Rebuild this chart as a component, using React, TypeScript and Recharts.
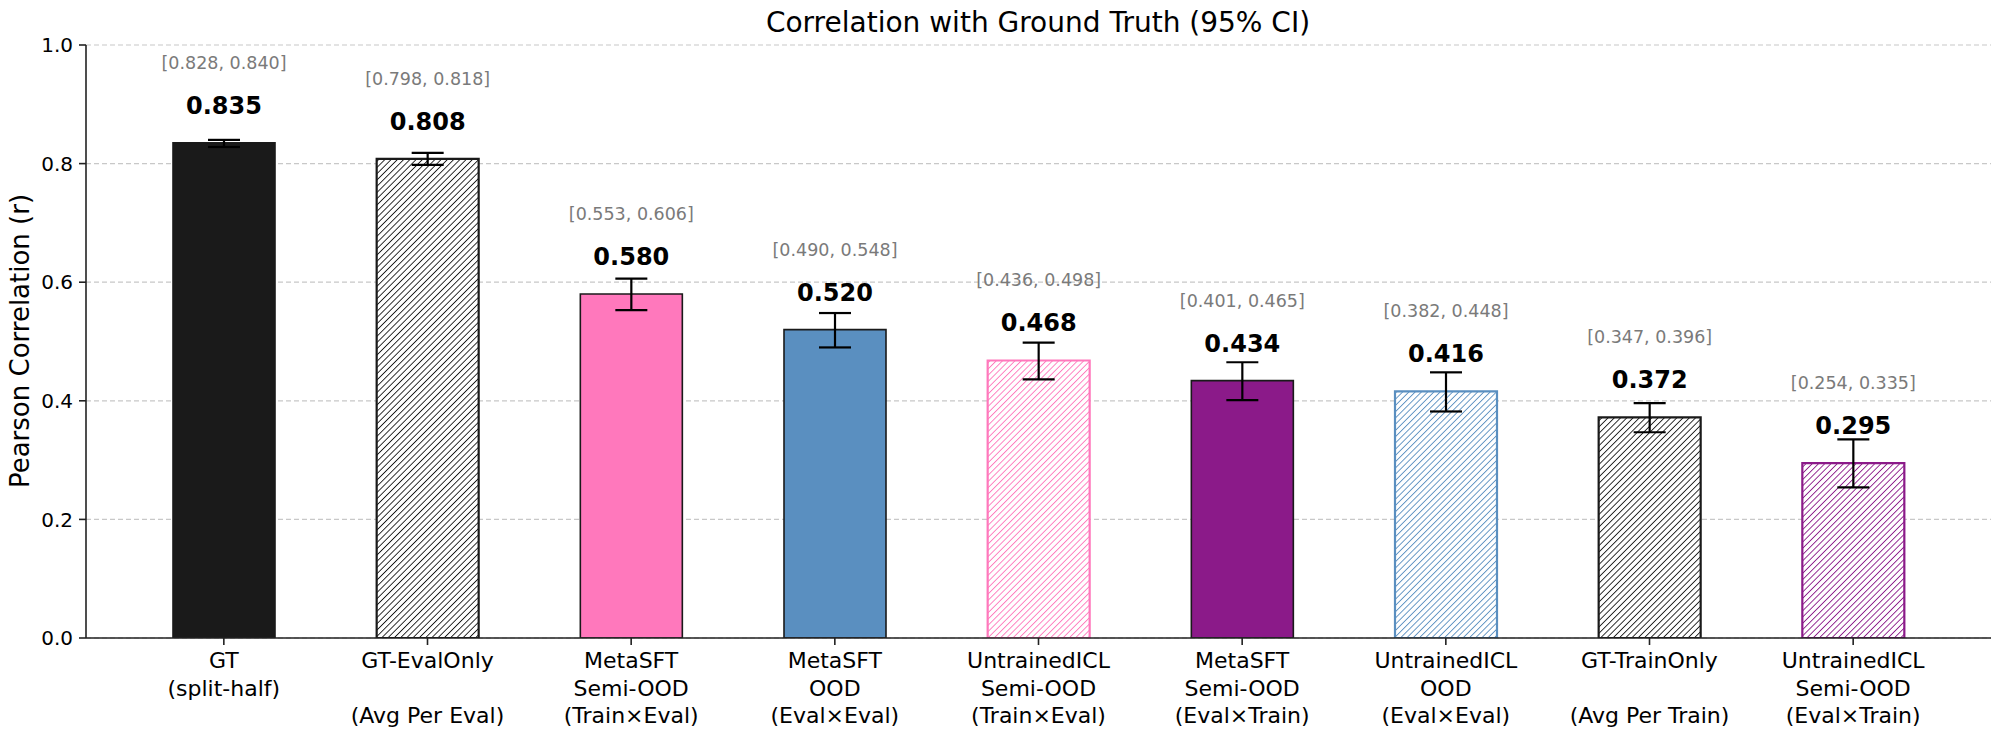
import React from "react";
import { BarChart, Bar, XAxis, YAxis, CartesianGrid, Cell, ErrorBar, LabelList } from "recharts";

const categories = [
  "GT\n(split-half)",
  "GT-EvalOnly\n\n(Avg Per Eval)",
  "MetaSFT\nSemi-OOD\n(Train×Eval)",
  "MetaSFT\nOOD\n(Eval×Eval)",
  "UntrainedICL\nSemi-OOD\n(Train×Eval)",
  "MetaSFT\nSemi-OOD\n(Eval×Train)",
  "UntrainedICL\nOOD\n(Eval×Eval)",
  "GT-TrainOnly\n\n(Avg Per Train)",
  "UntrainedICL\nSemi-OOD\n(Eval×Train)",
];
const values = [0.835, 0.808, 0.58, 0.52, 0.468, 0.434, 0.416, 0.372, 0.295];
const ciLow = [0.828, 0.798, 0.553, 0.49, 0.436, 0.401, 0.382, 0.347, 0.254];
const ciHigh = [0.84, 0.818, 0.606, 0.548, 0.498, 0.465, 0.448, 0.396, 0.335];
const barColors = ["#1a1a1a", "#1a1a1a", "#ff78bc", "#5a8fc0", "#ff78bc", "#8b1a89", "#5a8fc0", "#1a1a1a", "#8b1a89"];
const hatched = [false, true, false, false, true, false, true, true, true];
const yTicks = [0, 0.2, 0.4, 0.6, 0.8, 1.0];

const FONT = "'DejaVu Sans', sans-serif";

const data = categories.map((c, i) => ({
  name: c,
  value: values[i],
  err: [values[i] - ciLow[i], ciHigh[i] - values[i]],
  ci: `[${ciLow[i].toFixed(3)}, ${ciHigh[i].toFixed(3)}]`,
}));

const hatchId = (i: number) => `hatch-${i}`;

const XTick = (props: any) => {
  const { x, y, payload } = props;
  const lines = String(payload.value).split("\n");
  return (
    <text x={x} y={y} textAnchor="middle" fontFamily={FONT} fontSize={22} fill="#000">
      {lines.map((l, i) => (
        <tspan key={i} x={x} y={y + 23 + i * 27.5}>
          {l}
        </tspan>
      ))}
    </text>
  );
};

const ValueLabel = (props: any) => {
  const { x, y, width, value } = props;
  return (
    <text x={x + width / 2} y={y - 37} textAnchor="middle" dominantBaseline="central" fontFamily={FONT} fontSize={24} fontWeight="bold" fill="#000">
      {Number(value).toFixed(3)}
    </text>
  );
};

const CiLabel = (props: any) => {
  const { x, y, width, value } = props;
  return (
    <text x={x + width / 2} y={y - 80} textAnchor="middle" dominantBaseline="central" fontFamily={FONT} fontSize={17.5} fill="#7a7a7a">
      {value}
    </text>
  );
};

export default function App() {
  return (
    <div style={{ position: "absolute", left: 0, top: 0, width: 1999, height: 738, background: "#fff" }}>
      <BarChart width={1999} height={738} data={data} margin={{ top: 45, right: 8, bottom: 0, left: 0 }} barCategoryGap={0}>
        <defs>
          {barColors.map((c, i) => (
            <pattern key={i} id={hatchId(i)} patternUnits="userSpaceOnUse" width={4.42} height={4.42} patternTransform="rotate(45)">
              <rect x={0} y={0} width={4.42} height={4.42} fill="#fff" />
              <line x1={0} y1={0} x2={0} y2={4.42} stroke={c} strokeWidth={1.8} />
            </pattern>
          ))}
        </defs>
        <CartesianGrid vertical={false} stroke="#c8c8c8" strokeDasharray="5 3" strokeWidth={1.2} />
        <XAxis
          dataKey="name"
          type="category"
          height={100}
          interval={0}
          padding={{ left: 36, right: 36 }}
          tick={<XTick />}
          tickSize={7}
          tickMargin={0}
          axisLine={{ stroke: "#222", strokeWidth: 1.6 }}
          tickLine={{ stroke: "#222", strokeWidth: 1.6 }}
        />
        <XAxis xAxisId="top" dataKey="name" orientation="top" height={0} tick={false} tickLine={false} axisLine={{ stroke: "#222", strokeWidth: 1.6 }} />
        <YAxis
          width={86}
          domain={[0, 1]}
          ticks={yTicks}
          allowDataOverflow
          tickFormatter={(v: number) => v.toFixed(1)}
          tick={{ fontFamily: FONT, fontSize: 20, fill: "#000" }}
          tickSize={7}
          tickMargin={6}
          axisLine={{ stroke: "#222", strokeWidth: 1.6 }}
          tickLine={{ stroke: "#222", strokeWidth: 1.6 }}
        />
        <YAxis yAxisId="right" orientation="right" width={0} domain={[0, 1]} tick={false} tickLine={false} axisLine={{ stroke: "#222", strokeWidth: 1.6 }} />
        <Bar dataKey="value" barSize={102} isAnimationActive={false}>
          {data.map((d, i) => (
            <Cell
              key={i}
              fill={hatched[i] ? `url(#${hatchId(i)})` : barColors[i]}
              stroke={hatched[i] ? barColors[i] : "#1a1a1a"}
              strokeWidth={hatched[i] ? 2.2 : 1.6}
            />
          ))}
          <ErrorBar dataKey="err" width={16} strokeWidth={2.2} stroke="#000" direction="y" />
          <LabelList dataKey="value" content={<ValueLabel />} />
          <LabelList dataKey="ci" content={<CiLabel />} />
        </Bar>
      </BarChart>
      <svg width={1999} height={738} style={{ position: "absolute", left: 0, top: 0, pointerEvents: "none" }}>
        <text x={1038} y={22} textAnchor="middle" dominantBaseline="central" fontFamily={FONT} fontSize={28} fill="#000">
          Correlation with Ground Truth (95% CI)
        </text>
        <text x={20} y={341} textAnchor="middle" dominantBaseline="central" fontFamily={FONT} fontSize={26} fill="#000" transform="rotate(-90 20 341)">
          Pearson Correlation (r)
        </text>
      </svg>
    </div>
  );
}
